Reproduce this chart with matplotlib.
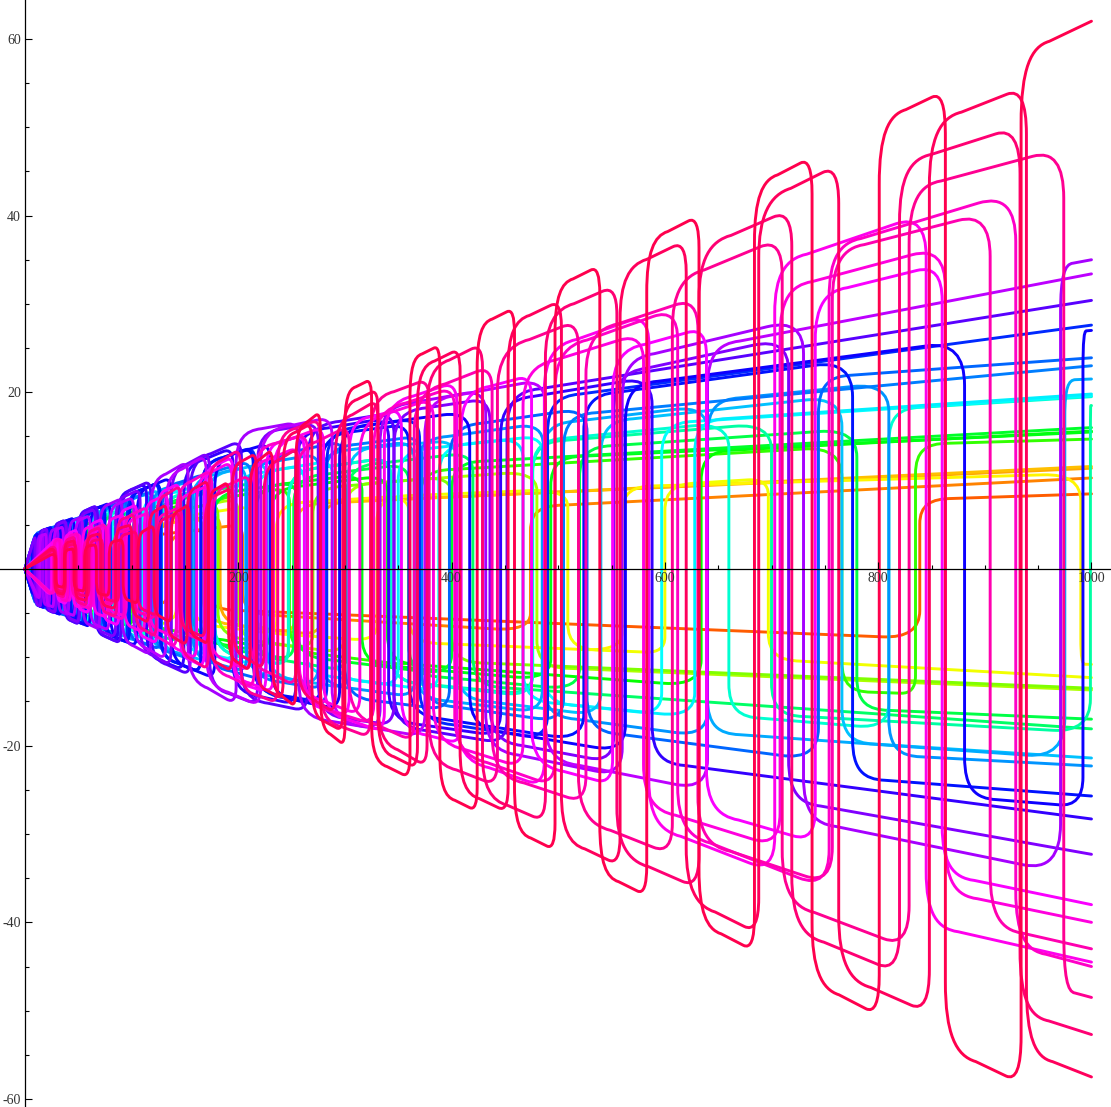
import numpy as np
import matplotlib
matplotlib.use("Agg")
import matplotlib.pyplot as plt
from matplotlib.path import Path
from matplotlib.patches import PathPatch
from matplotlib.colors import hsv_to_rgb
from matplotlib.ticker import FixedLocator

plt.rcParams['axes.unicode_minus'] = False

X_END = 1000
# x positions where the plateau level of each curve was read
AMP_X = [0, 10, 100, 200, 300, 400, 600, 800, 1000]

# -----------------------------
# curves, drawn in this order (low hue first, red on top)
# -----------------------------
hues = [0.06, 0.085, 0.11, 0.125, 0.16, 0.175, 0.22, 0.25,
        0.30, 0.33, 0.345, 0.36, 0.38, 0.40, 0.44, 0.47, 0.50, 0.51,
        0.54, 0.555, 0.57, 0.585, 0.60,
        0.64, 0.655, 0.675, 0.70, 0.725,
        0.75, 0.775, 0.79,
        0.83, 0.845, 0.855, 0.87, 0.885,
        0.905, 0.925, 0.94, 0.95]

# sign of each curve at the right edge
end_signs = [1, 1, 1, 1, -1, -1, -1, -1,
             1, 1, 1, 1, -1, -1, 1, 1, 1, 1,
             -1, 1, -1, 1, 1,
             1, -1, 1, -1, 1,
             -1, 1, 1,
             -1, -1, -1, -1, -1,
             -1, -1, -1, 1]

# x of every jump
switches = [
    [18, 28, 43, 66, 101, 170, 839],
    [16, 25, 38, 58, 88, 134, 204, 474],
    [15, 23, 35, 53, 80, 121, 183, 277],
    [14, 21, 32, 48, 73, 110, 167, 253],
    [13, 20, 30, 45, 68, 103, 156, 236, 360, 560, 990],
    [12, 18, 27, 41, 62, 94, 142, 215, 330, 509, 600, 697],
    [12, 18, 27, 40, 60, 90, 135, 200, 300, 480],
    [11, 17, 25, 37, 55, 82, 122, 181, 270, 400],
    [11, 16, 24, 35, 52, 77, 114, 168, 248, 370, 766, 835],
    [10, 15, 22, 33, 49, 72, 106, 156, 230, 340, 634],
    [10, 15, 22, 32, 47, 69, 101, 148, 216, 316, 493],
    [9, 13, 19, 28, 40, 58, 84, 122, 176, 255, 400],
    [9, 14, 20, 29, 42, 60, 86, 123, 176, 252, 360, 520, 780],
    [8, 12, 18, 26, 37, 52, 73, 103, 150, 215, 302, 420],
    [7, 11, 16, 23, 33, 47, 66, 92, 128, 178, 247, 343, 476, 700, 999],
    [7, 11, 16, 23, 33, 47, 66, 92, 128, 178, 247, 343, 476, 660, 810],
    [6, 9, 13, 18, 25, 35, 48, 65, 88, 119, 160, 215, 289, 388, 486, 597],
    [5, 8, 12, 17, 24, 33, 45, 61, 82, 110, 147, 196, 262, 350, 467, 628],
    [6, 10, 14, 20, 28, 39, 53, 71, 95, 127, 170, 227, 303, 405, 540, 766],
    [5, 9, 13, 19, 26, 36, 49, 66, 88, 117, 156, 207, 275, 365, 485, 640, 975],
    [5, 9, 13, 19, 27, 37, 50, 67, 89, 118, 157, 208, 276, 366, 486, 640, 810],
    [6, 10, 14, 20, 28, 38, 51, 68, 91, 121, 160, 212, 281, 372, 505],
    [6, 10, 15, 21, 29, 40, 54, 72, 96, 128, 170, 226, 300, 398, 527, 744],
    [7, 11, 16, 22, 30, 41, 55, 73, 96, 126, 165, 216, 283, 370, 490],
    [7, 11, 16, 23, 32, 43, 57, 75, 98, 127, 165, 214, 278, 360, 524, 776],
    [8, 12, 18, 25, 34, 46, 61, 80, 105, 137, 178, 230, 295, 417, 563, 881, 992],
    [8, 13, 19, 27, 37, 50, 66, 87, 114, 149, 195, 254, 341, 446, 588],
    [9, 14, 20, 28, 38, 51, 68, 90, 118, 155, 203, 265, 346, 452],
    [10, 15, 21, 29, 39, 51, 66, 85, 108, 137, 173, 218, 275, 346, 436, 552, 716],
    [12, 17, 23, 31, 41, 54, 70, 91, 118, 153, 198, 257, 333, 432, 560, 730, 971],
    [14, 20, 27, 36, 47, 61, 79, 102, 132, 170, 221, 288, 375, 488, 640],
    [30, 39, 49, 60, 73, 88, 105, 124, 145, 168, 195, 226, 262, 304, 353, 409,
     475, 551, 639, 741, 860],
    [25, 31, 37, 45, 54, 64, 77, 93, 112, 134, 161, 194, 233, 280, 337, 405,
     487, 585, 703, 845],
    [28, 35, 43, 52, 64, 78, 95, 116, 142, 173, 211, 257, 314, 383, 467, 580,
     708, 863],
    [27, 33, 40, 50, 62, 76, 93, 115, 142, 175, 215, 265, 327, 403, 497, 612,
     754, 929],
    [27, 35, 44, 55, 68, 83, 101, 122, 147, 176, 211, 254, 304, 365, 438, 526,
     631, 757, 905],
    [29, 37, 47, 58, 71, 86, 103, 123, 146, 172, 202, 237, 277, 324, 379, 443,
     519, 607, 710, 829, 974],
    [29, 38, 48, 60, 73, 88, 105, 124, 145, 169, 195, 224, 256, 291, 331, 377,
     429, 488, 555, 632, 719, 820, 933],
    [28, 37, 47, 58, 71, 85, 100, 116, 133, 152, 172, 194, 217, 242, 269, 298,
     331, 368, 408, 453, 503, 558, 620, 688, 763, 848, 939],
    [29, 37, 46, 56, 67, 79, 92, 106, 121, 137, 154, 172, 191, 211, 232, 254,
     277, 300, 325, 361, 389, 424, 459, 497, 539, 583, 632, 684, 738, 801, 863,
     934],
]

# plateau level (abs value) of each curve at AMP_X
amps = [
    [0, 2, 3.5, 5, 6.2, 6.8, 7.6, 7.7, 8.5],
    [0, 2, 3.5, 5, 5.8, 6.3, 8.3, 9.5, 10.3],
    [0, 2.5, 4.5, 6.5, 7.8, 8.8, 10.2, 10.9, 11.4],
    [0, 2.5, 4.5, 6.5, 8, 9, 10.4, 11.1, 11.6],
    [0, 2.5, 5, 7, 8, 8.5, 9.5, 10.3, 10.8],
    [0, 2.5, 5, 7, 8, 8.5, 9.5, 11, 12.3],
    [0, 3, 5.5, 8, 9.5, 10.5, 12, 13, 13.7],
    [0, 3, 5.5, 8, 9.5, 10.5, 12, 13, 13.5],
    [0, 3, 6, 8.5, 10, 11.5, 13, 14, 14.7],
    [0, 3, 6, 8.5, 10, 11.5, 13, 14.5, 15.6],
    [0, 3.5, 6.5, 9, 10.5, 11.8, 13.5, 14.6, 15.5],
    [0, 3.5, 6.5, 9, 10.5, 12, 13.8, 15, 16],
    [0, 3.5, 6.5, 9.5, 11, 12.5, 14.5, 16, 17],
    [0, 3.5, 7, 9.5, 11.5, 13, 15, 17, 18.1],
    [0, 3.5, 7, 10, 12, 13.5, 15.5, 17.5, 18.5],
    [0, 4, 7, 10, 12, 13.5, 16, 18, 19.5],
    [0, 4, 7.5, 10.5, 12.5, 14, 16.5, 18.5, 19.6],
    [0, 4, 7.5, 10.5, 12.5, 14, 16.5, 18.5, 19.8],
    [0, 4, 8, 11.5, 13.5, 14.5, 17.5, 20, 21.4],
    [0, 4, 8, 11.5, 13.5, 15, 18, 20.5, 21.5],
    [0, 4, 8, 11.5, 13.5, 15, 18.5, 21, 22.3],
    [0, 4, 8, 12, 14, 15.5, 19, 22, 23],
    [0, 4, 8, 12, 14.5, 16, 19.5, 22.5, 23.9],
    [0, 4, 8.5, 13.5, 16, 17.5, 21.5, 25.5, 27.6],
    [0, 4, 8.5, 13.5, 15.5, 17, 21, 24, 25.7],
    [0, 4, 8.5, 13.5, 16, 17.5, 21.5, 25, 27],
    [0, 4, 9, 14, 16.5, 18, 22, 25.5, 28.3],
    [0, 4, 9, 14.5, 17, 18.5, 23.5, 27.5, 30.4],
    [0, 4, 8.5, 15, 17, 18.5, 23, 28.5, 32.3],
    [0, 3.5, 8.5, 15.5, 17.5, 19.5, 24.5, 30.5, 35],
    [0, 3.5, 8, 15, 17.5, 19.5, 24, 29.5, 33.4],
    [0, 2.5, 7, 13, 16.5, 19.5, 26, 33, 38],
    [0, 2.5, 6.5, 12.5, 17, 21, 29.5, 39, 44.5],
    [0, 2.5, 5.5, 11, 16, 20, 27.5, 35, 40],
    [0, 2.5, 6, 13, 16.5, 20.5, 29, 38.5, 45],
    [0, 2, 4.5, 10, 16, 21.5, 29.5, 37.5, 43],
    [0, 2, 6, 13.5, 18, 22.5, 32, 42, 48.5],
    [0, 2, 4, 9.5, 17, 24, 34.5, 45, 52.7],
    [0, 2, 5, 12, 18.5, 24.5, 36, 48, 57.5],
    [0, 1.5, 3.5, 10.5, 20, 26, 38, 50.5, 62],
]


# -----------------------------
# rounded square wave through the read jumps / levels
# -----------------------------
def wave_path(sw, amp_vals, end_sign):
    xs = [0.0] + list(sw) + [X_END]
    lv = np.interp(xs, AMP_X, amp_vals)
    nseg = len(xs) - 1
    verts = [(0.0, 0.0)]
    codes = [Path.MOVETO]
    for i in range(nseg):
        s = end_sign * (-1) ** (nseg - 1 - i)
        x0, x1 = xs[i], xs[i + 1]
        a, b = lv[i], lv[i + 1]
        L = x1 - x0

        def level(t):
            return a + (b - a) * (t - x0) / L

        if i > 0:
            # wide bend right after the jump
            rx1 = min(0.4 * L, 30)
            ry1 = min(0.1 * a + 2.0, 0.6 * a)
            verts.append((x0, s * (a - ry1)))
            codes.append(Path.LINETO)
            verts += [(x0, s * (a - 0.2 * ry1)),
                      (x0 + 0.35 * rx1, s * level(x0 + 0.6 * rx1)),
                      (x0 + rx1, s * level(x0 + rx1))]
            codes += [Path.CURVE4] * 3
        if i == nseg - 1:
            verts.append((x1, s * b))
            codes.append(Path.LINETO)
        else:
            # tighter bend before the next jump
            rx2 = min(0.2 * L, 35)
            ry2 = min(0.05 * b * (1 + L / 150) + 1.0, 0.5 * b)
            verts.append((x1 - rx2, s * level(x1 - rx2)))
            codes.append(Path.LINETO)
            verts += [(x1, s * b), (x1, s * (b - ry2))]
            codes += [Path.CURVE3, Path.CURVE3]
    return Path(verts, codes)


fig = plt.figure(figsize=(11.11, 11.07), dpi=100)
ax = fig.add_axes([0, 0, 1, 1])
ax.set_xlim(-23.4, 1018.3)
ax.set_ylim(-60.9, 64.4)

for h, sgn, sw, av in zip(hues, end_signs, switches, amps):
    col = hsv_to_rgb([h, 1.0, 1.0])
    patch = PathPatch(wave_path(sw, av, sgn), facecolor="none", edgecolor=col,
                      lw=2.1, joinstyle="round", capstyle="round")
    ax.add_patch(patch)

# axes through the origin, Mathematica style
for side in ["top", "right"]:
    ax.spines[side].set_visible(False)
ax.spines["left"].set_position(("data", 0))
ax.spines["bottom"].set_position(("data", 0))
ax.spines["left"].set_linewidth(0.9)
ax.spines["bottom"].set_linewidth(0.9)
ax.spines["left"].set_zorder(5)
ax.spines["bottom"].set_zorder(5)

ax.xaxis.set_major_locator(FixedLocator([200, 400, 600, 800, 1000]))
ax.xaxis.set_minor_locator(FixedLocator([50, 100, 150, 250, 300, 350, 450, 500, 550,
                                         650, 700, 750, 850, 900, 950]))
ax.yaxis.set_major_locator(FixedLocator([-60, -40, -20, 20, 40, 60]))
ax.yaxis.set_minor_locator(FixedLocator([v for v in range(-60, 65, 5) if v % 20 != 0]))

ax.tick_params(which="both", direction="in", width=0.8, colors="black")
ax.tick_params(which="major", length=5)
ax.tick_params(which="minor", length=3)
ax.tick_params(axis="x", pad=2)
ax.tick_params(axis="y", pad=3)
for lab in ax.get_xticklabels() + ax.get_yticklabels():
    lab.set_fontfamily("Liberation Serif")
    lab.set_fontsize(10)
    lab.set_color("#333333")

fig.savefig("out.png", dpi=100)
